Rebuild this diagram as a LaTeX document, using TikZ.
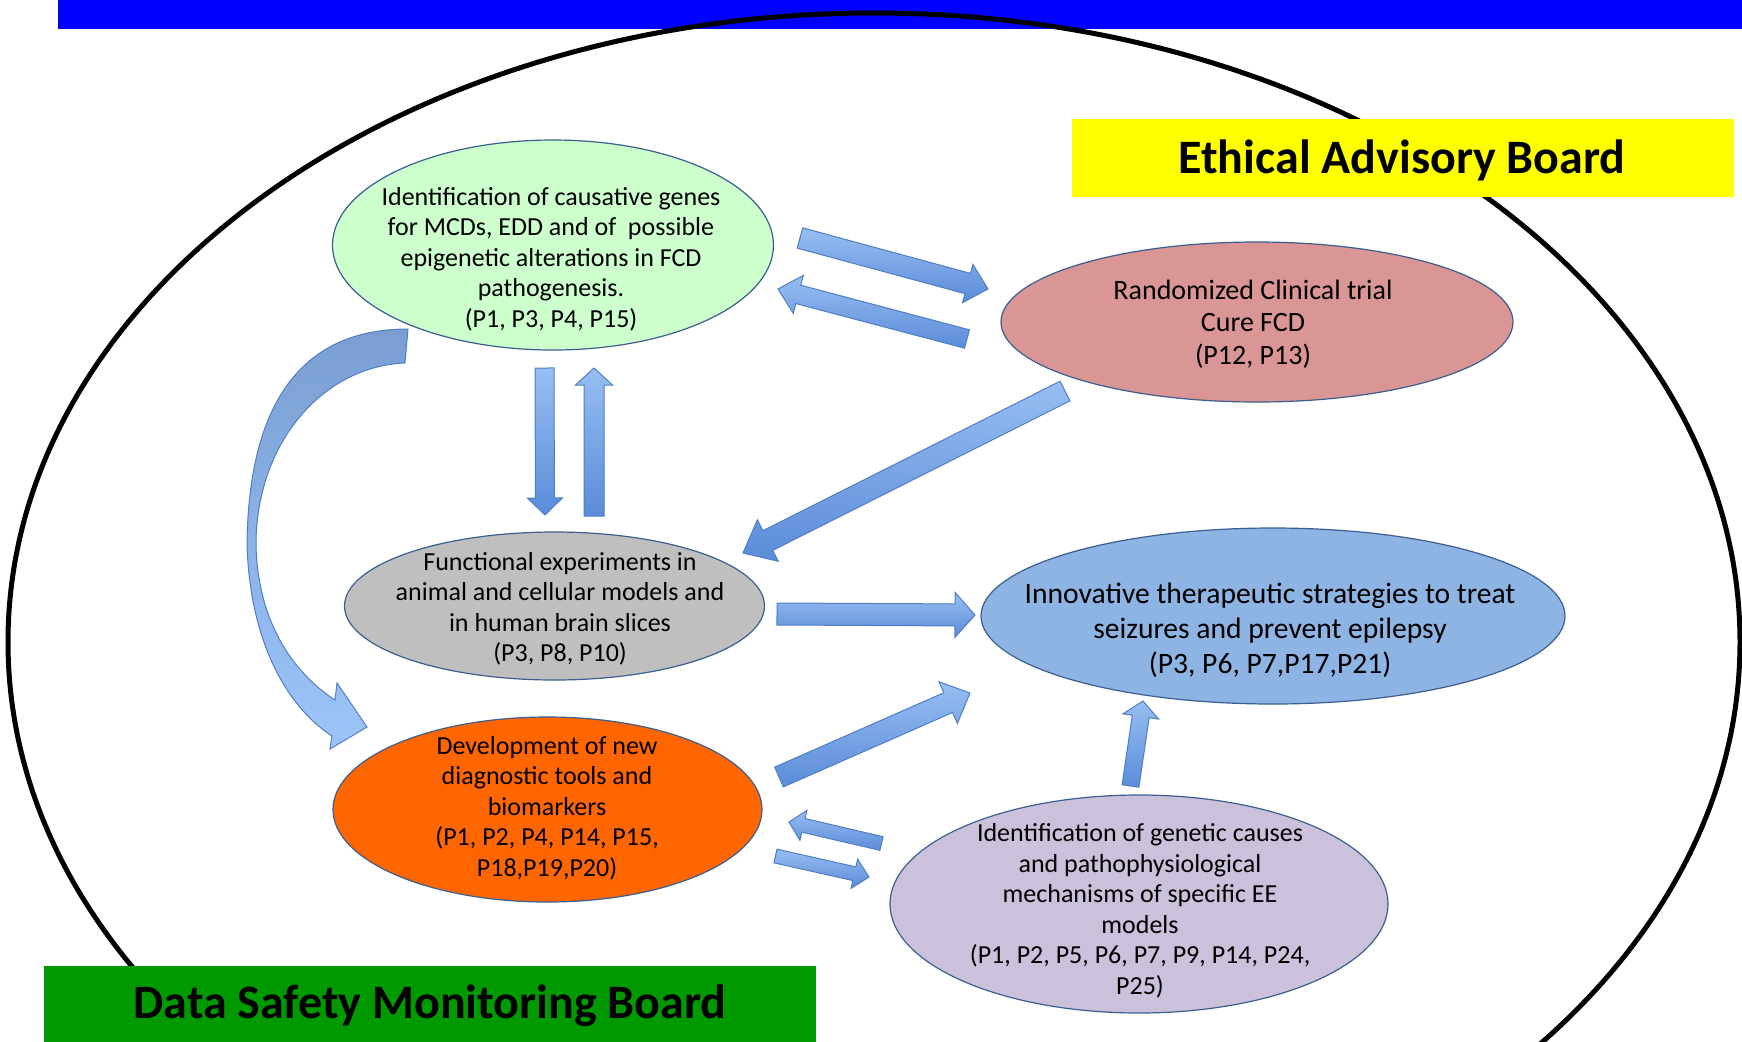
\documentclass[tikz,border=0pt]{standalone}
\usepackage{fontspec}
\setmainfont{Carlito}
\usetikzlibrary{shapes.geometric,calc}
\definecolor{barblue}{HTML}{0000FF}
\definecolor{eabyellow}{HTML}{FFFF00}
\definecolor{dsmgreen}{HTML}{009900}
\definecolor{cgreen}{HTML}{CCFFCC}
\definecolor{cpink}{HTML}{D99694}
\definecolor{cgray}{HTML}{BFBFBF}
\definecolor{cblue}{HTML}{8EB4E3}
\definecolor{corange}{HTML}{FF6600}
\definecolor{cpurple}{HTML}{CCC1DA}
\definecolor{bubline}{HTML}{3B5E91}
\definecolor{arrtop}{HTML}{98BEF2}
\definecolor{arrbot}{HTML}{5A8CD9}
\definecolor{arrline}{HTML}{4F7EC4}
\definecolor{cvtop}{HTML}{7A9ED2}
\definecolor{cvmid}{HTML}{3E6EAF}
\definecolor{cvbot}{HTML}{9DC5FA}
\tikzset{
  bub/.style={ellipse, draw=bubline, line width=0.6pt, inner sep=0pt},
  txt/.style={align=center, inner sep=0pt, text=black, font=\fontsize{13}{15.25}\selectfont},
  boardtxt/.style={inner sep=0pt, text=black, font=\bfseries\fontsize{24}{28}\selectfont},
  barr/.style={draw=arrline, line width=0.5pt, top color=arrtop, bottom color=arrbot},
  curvearr/.style={draw=arrline, line width=0.5pt, top color=cvtop, middle color=cvmid, bottom color=cvbot},
}
\newcommand{\blockarr}[5]{%
  \coordinate (hb) at ($(#2)!#5!(#1)$);
  \path[barr] ($(#1)!#3!90:(#2)$) -- ($(hb)!#3!90:(#2)$) -- ($(hb)!#4!90:(#2)$) -- (#2)
    -- ($(hb)!#4!-90:(#2)$) -- ($(hb)!#3!-90:(#2)$) -- ($(#1)!#3!-90:(#2)$) -- cycle;}
\begin{document}
\begin{tikzpicture}[x=0.5pt,y=-0.5pt]
\useasboundingbox (0,0) rectangle (1742,1041);
\clip (0,0) rectangle (1742,1041);
\fill[white] (0,0) rectangle (1742,1041);
% top bar
\fill[barblue] (58,0) rectangle (1742,29);
% outer ellipse
\draw[line width=2.5pt] (874,642) ellipse [x radius=433pt, y radius=314.5pt];
% boards
\node[fill=eabyellow, minimum width=331pt, minimum height=39pt, inner sep=0pt] (eab) at (1403,158) {};
\node[boardtxt] (eabt) at (1402,160) {Ethical Advisory Board};
\node[fill=dsmgreen, minimum width=386pt, minimum height=38pt, inner sep=0pt] (dsm) at (430,1004) {};
\node[boardtxt] (dsmt) at (430,1006) {Data Safety Monitoring Board};
% bubbles
\node[bub, fill=cgreen, minimum width=220.5pt, minimum height=105pt] (gen) at (553,245) {};
\node[bub, fill=cpink, minimum width=256pt, minimum height=80pt] (rct) at (1257,322) {};
\node[bub, fill=cgray, minimum width=210pt, minimum height=74pt] (fun) at (554.5,606) {};
\node[bub, fill=cblue, minimum width=292pt, minimum height=88pt] (inn) at (1273,616) {};
\node[bub, fill=corange, minimum width=214.5pt, minimum height=92.5pt] (dev) at (547.5,809.5) {};
\node[bub, fill=cpurple, minimum width=249pt, minimum height=109pt] (idg) at (1139,904) {};
% texts
\node[txt] (gent) at (551,259) {Identification of causative genes\\for MCDs, EDD and of\ \ possible\\epigenetic alterations in FCD\\pathogenesis.\\(P1, P3, P4, P15)};
\node[txt, font=\fontsize{14}{16.25}\selectfont] (rctt) at (1253,324) {Randomized Clinical trial\\Cure FCD\\(P12, P13)};
\node[txt] (funt) at (560,609) {Functional experiments in\\animal and cellular models and\\in human brain slices\\(P3, P8, P10)};
\node[txt, font=\fontsize{14.8}{17.5}\selectfont] (innt) at (1270,630) {Innovative therapeutic strategies to treat\\seizures and prevent epilepsy\\(P3, P6, P7,P17,P21)};
\node[txt] (devt) at (547,808) {Development of new\\diagnostic tools and\\biomarkers\\(P1, P2, P4, P14, P15,\\P18,P19,P20)};
\node[txt] (idgt) at (1140,911) {Identification of genetic causes\\and pathophysiological\\mechanisms of specific EE\\models\\(P1, P2, P5, P6, P7, P9, P14, P24,\\P25)};
% arrow end points
\coordinate (a1s) at (800,238);   \coordinate (a1e) at (988,289);
\coordinate (a2s) at (967,339);   \coordinate (a2e) at (778,289);
\coordinate (a3s) at (544.5,368); \coordinate (a3e) at (545,515);
\coordinate (a4s) at (594,516);   \coordinate (a4e) at (594,368);
\coordinate (a5s) at (1065,391);  \coordinate (a5e) at (743,553);
\coordinate (a6s) at (777,614);   \coordinate (a6e) at (975,615);
\coordinate (a7s) at (779,777);   \coordinate (a7e) at (970,693);
\coordinate (a8s) at (1130.5,786);\coordinate (a8e) at (1143,701);
\coordinate (a9s) at (881.5,843.5);\coordinate (a9e) at (789,822);
\coordinate (a10s) at (775.5,856);\coordinate (a10e) at (869,877);
% block arrows
\blockarr{a1s}{a1e}{5.25pt}{9.9pt}{10.5pt}
\blockarr{a2s}{a2e}{4.75pt}{9.8pt}{10.5pt}
\blockarr{a3s}{a3e}{4.75pt}{8.75pt}{8.5pt}
\blockarr{a4s}{a4e}{5pt}{9.25pt}{8.5pt}
\blockarr{a5s}{a5e}{5.5pt}{11.6pt}{13.9pt}
\blockarr{a6s}{a6e}{5.5pt}{11.25pt}{10pt}
\blockarr{a7s}{a7e}{5.4pt}{11.4pt}{11.9pt}
\blockarr{a8s}{a8e}{4.25pt}{9pt}{7.8pt}
\blockarr{a9s}{a9e}{3.5pt}{7.7pt}{7.4pt}
\blockarr{a10s}{a10e}{3.5pt}{7.5pt}{7.5pt}
% curved arrow from gen to dev
\coordinate (ct1) at (408,329);
\coordinate (ct2) at (405,363);
\coordinate (cn1) at (335,700);
\coordinate (cn2) at (332,736);
\coordinate (cb1) at (337,683);
\coordinate (ctip) at (367,727);
\coordinate (cb2) at (330,749);
\path[curvearr] (ct1) .. controls (300,329) and (249,405) .. (247,543)
  .. controls (249,630) and (280,702) .. (cn2) -- (cb2) -- (ctip) -- (cb1) -- (cn1)
  .. controls (292,672) and (257,620) .. (256,543)
  .. controls (257,440) and (325,366) .. (ct2) -- cycle;
\end{tikzpicture}
\end{document}
